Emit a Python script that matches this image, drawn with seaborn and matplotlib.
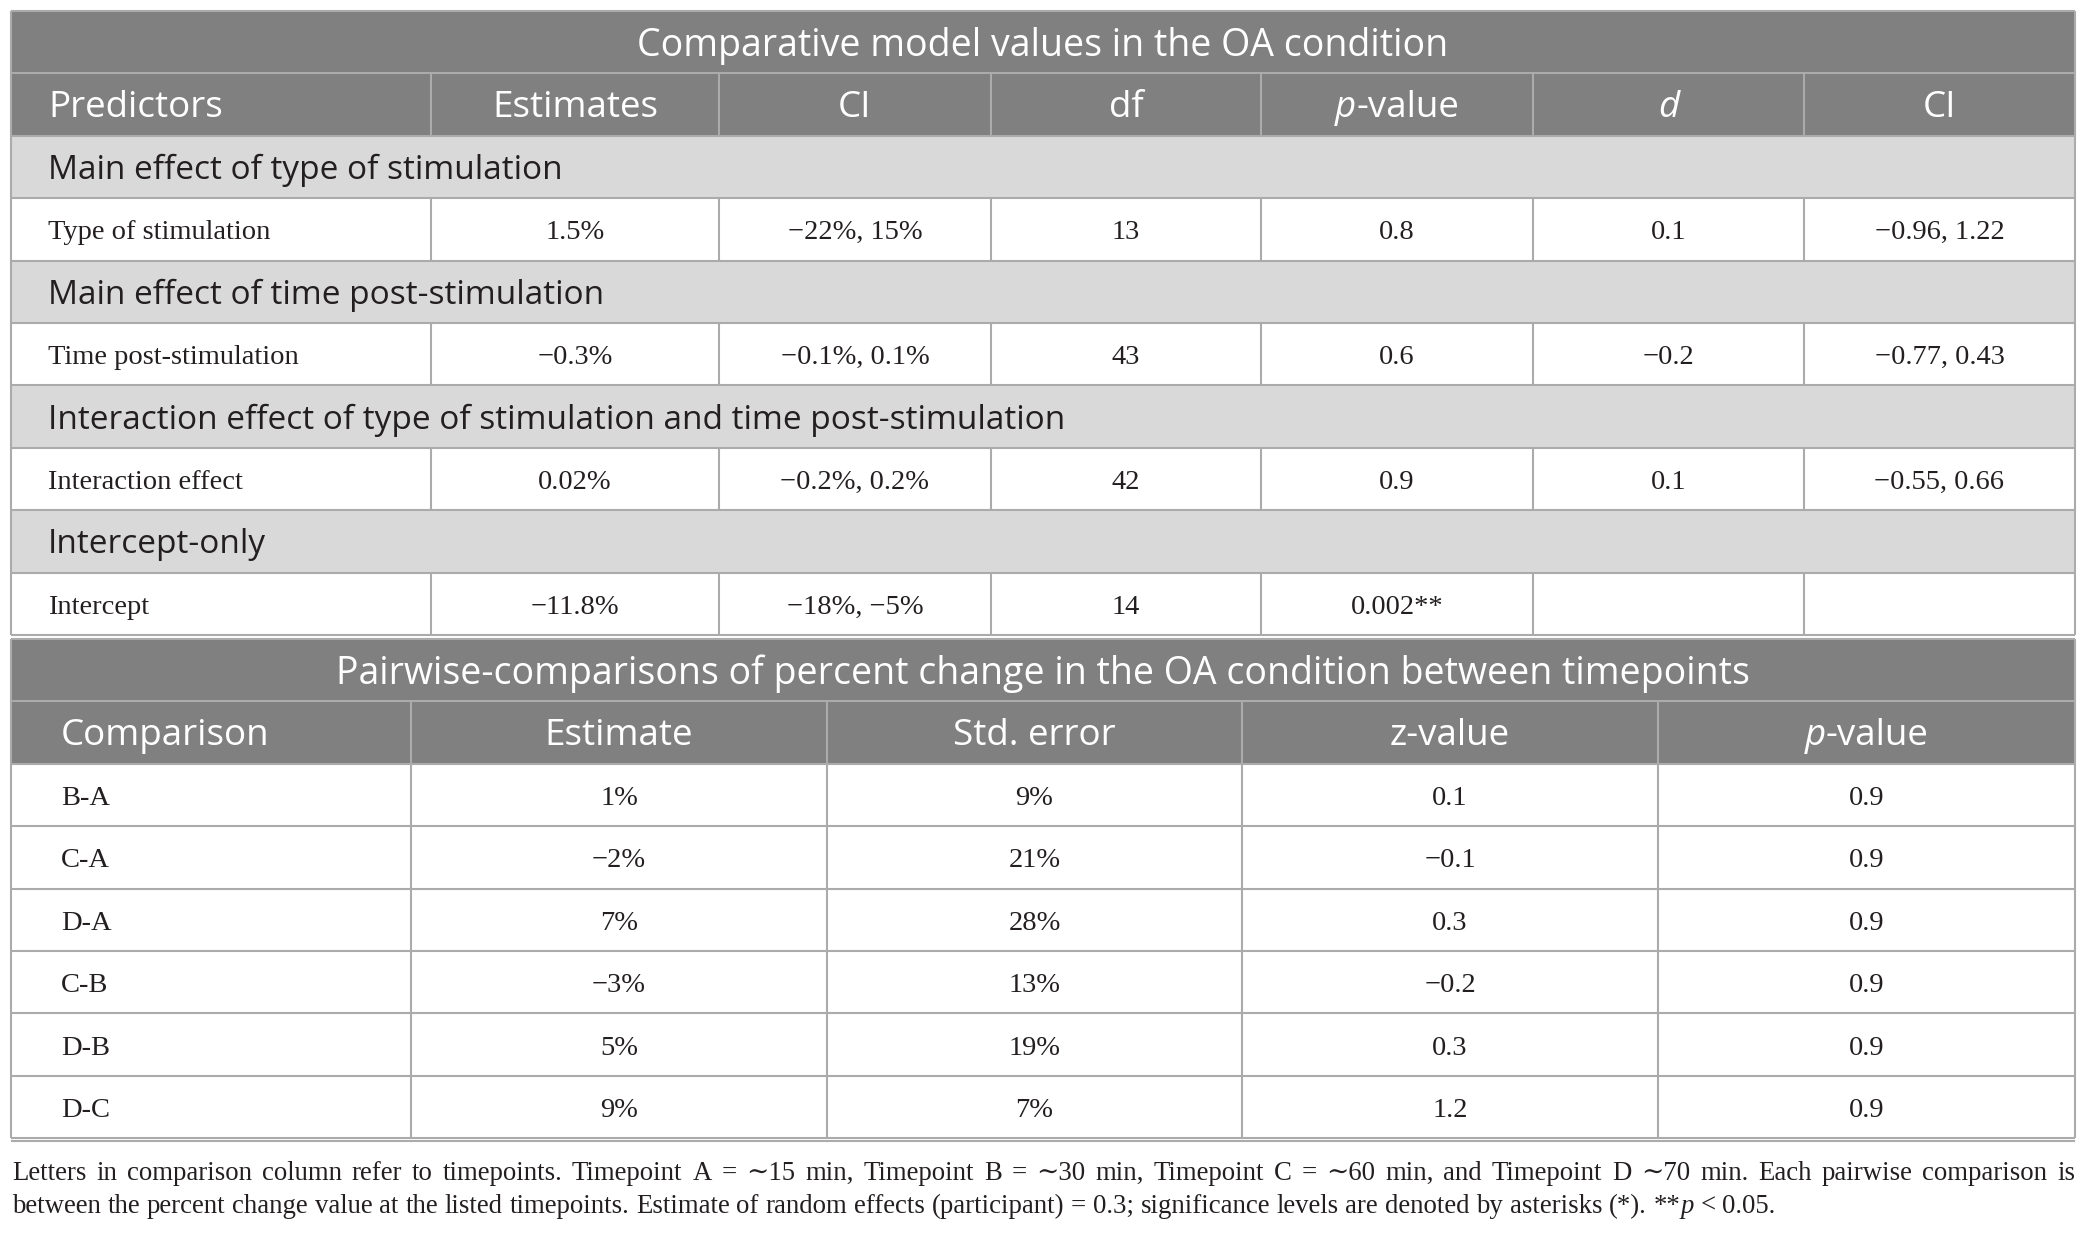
import matplotlib.pyplot as plt
import seaborn as sns
from matplotlib.patches import Rectangle

# ---- table 1: comparative model values ----
title1 = "Comparative model values in the OA condition"
header1 = ["Predictors", "Estimates", "CI", "df", [("p", "it"), ("-value", "rm")],
           [("d", "it")], "CI"]
sections = ["Main effect of type of stimulation",
            "Main effect of time post-stimulation",
            "Interaction effect of type of stimulation and time post-stimulation",
            "Intercept-only"]
predictors = ["Type of stimulation", "Time post-stimulation", "Interaction effect", "Intercept"]
estimates = ["1.5%", "\u22120.3%", "0.02%", "\u221211.8%"]
est_ci = ["\u221222%, 15%", "\u22120.1%, 0.1%", "\u22120.2%, 0.2%", "\u221218%, \u22125%"]
dfs = ["13", "43", "42", "14"]
p_values = ["0.8", "0.6", "0.9", "0.002**"]
d_values = ["0.1", "\u22120.2", "0.1", ""]
d_ci = ["\u22120.96, 1.22", "\u22120.77, 0.43", "\u22120.55, 0.66", ""]

# ---- table 2: pairwise comparisons ----
title2 = "Pairwise-comparisons of percent change in the OA condition between timepoints"
header2 = ["Comparison", "Estimate", "Std. error", "z-value", [("p", "it"), ("-value", "rm")]]
comparisons = ["B-A", "C-A", "D-A", "C-B", "D-B", "D-C"]
pw_estimate = ["1%", "\u22122%", "7%", "\u22123%", "5%", "9%"]
pw_se = ["9%", "21%", "28%", "13%", "19%", "7%"]
pw_z = ["0.1", "\u22120.1", "0.3", "\u22120.2", "0.3", "1.2"]
pw_p = ["0.9", "0.9", "0.9", "0.9", "0.9", "0.9"]

footer1 = ("Letters in comparison column refer to timepoints. Timepoint A = \u223c15 min, "
           "Timepoint B = \u223c30 min, Timepoint C = \u223c60 min, and Timepoint D \u223c70 min. "
           "Each pairwise comparison is")
footer2 = ("between the percent change value at the listed timepoints. Estimate of random "
           "effects (participant) = 0.3; significance levels are denoted by asterisks (*). **p < 0.05.")

# layout (pixels)
W, H = 2088, 1234
LEFT, RIGHT = 11, 2075
ROW_H = 62.4
T1_TOP = 11
T2_TOP = 639
DY = 3.5  # text sits a little below the geometric row centre
cols1 = [11, 431, 719, 991, 1261, 1533, 1804, 2075]
cols2 = [11, 411, 827, 1242, 1658, 2075]

DARK = "#808080"
LIGHT = "#d9d9d9"
EDGE = "#ababab"
INK = "#231f20"

TITLE_SZ = 27
HEAD_SZ = 26.5
SEC_SZ = 24
CELL_SZ = 20.5
FOOT_SZ = 19.3

sns.set_theme(style="white")
plt.rcParams["font.family"] = ["Open Sans", "DejaVu Sans"]

SANS = ["Open Sans", "DejaVu Sans"]
SERIF = ["Liberation Serif", "DejaVu Serif"]

fig = plt.figure(figsize=(W / 100, H / 100), dpi=100)
ax = fig.add_axes((0, 0, 1, 1))
ax.set_xlim(0, W)
ax.set_ylim(H, 0)
ax.axis("off")
renderer = fig.canvas.get_renderer()


def width_of(s, **kw):
    t = ax.text(0, 0, s, **kw)
    w = t.get_window_extent(renderer).width
    t.remove()
    return w


def draw_runs(x, y, runs, ha="left", va="center", family=SANS, size=20, color="white"):
    if isinstance(runs, str):
        runs = [(runs, "rm")]
    kws = [dict(family=family, fontsize=size, color=color,
                style="italic" if st == "it" else "normal") for _, st in runs]
    widths = [width_of(s, **k) for (s, _), k in zip(runs, kws)]
    total = sum(widths)
    if ha == "center":
        x = x - total / 2
    for (s, _), k, w in zip(runs, kws, widths):
        ax.text(x, y + DY, s, ha="left", va=va, **k)
        x += w


def band(y0, h, color):
    ax.add_patch(Rectangle((LEFT, y0), RIGHT - LEFT, h, facecolor=color, edgecolor="none"))


def build_table(top, title, header, cols, kinds, pad):
    band(top, ROW_H, DARK)
    band(top + ROW_H, ROW_H, DARK)
    for i, kind in enumerate(kinds):
        band(top + (i + 2) * ROW_H, ROW_H, LIGHT if kind == "sec" else "white")
    bottom = top + (2 + len(kinds)) * ROW_H
    # horizontal rules
    for i in range(len(kinds) + 3):
        ax.hlines(top + i * ROW_H, LEFT, RIGHT, color=EDGE, lw=1.5)
    ax.vlines([LEFT, RIGHT], top, bottom, color=EDGE, lw=1.5)
    # vertical rules for header and data rows
    for c in cols[1:-1]:
        ax.vlines(c, top + ROW_H, top + 2 * ROW_H, color=EDGE, lw=1.5)
        for i, kind in enumerate(kinds):
            if kind == "data":
                y0 = top + (i + 2) * ROW_H
                ax.vlines(c, y0, y0 + ROW_H, color=EDGE, lw=1.5)
    draw_runs((LEFT + RIGHT) / 2, top + ROW_H / 2, title, ha="center", size=TITLE_SZ)
    yh = top + 1.5 * ROW_H
    for j, h in enumerate(header):
        if j == 0:
            draw_runs(cols[0] + pad, yh, h, size=HEAD_SZ)
        else:
            draw_runs((cols[j] + cols[j + 1]) / 2, yh, h, ha="center", size=HEAD_SZ)
    return bottom


# table 1
kinds1 = ["sec", "data"] * 4
build_table(T1_TOP, title1, header1, cols1, kinds1, 37)
body1 = list(zip(predictors, estimates, est_ci, dfs, p_values, d_values, d_ci))
for i in range(4):
    ys = T1_TOP + (2 + 2 * i + 0.5) * ROW_H
    draw_runs(cols1[0] + 37, ys, sections[i], size=SEC_SZ, color=INK)
    yd = ys + ROW_H
    for j, val in enumerate(body1[i]):
        if j == 0:
            draw_runs(cols1[0] + 37, yd, val, family=SERIF, size=CELL_SZ, color=INK)
        elif val:
            draw_runs((cols1[j] + cols1[j + 1]) / 2, yd, val, ha="center",
                      family=SERIF, size=CELL_SZ, color=INK)

# table 2
kinds2 = ["data"] * 6
b2 = build_table(T2_TOP, title2, header2, cols2, kinds2, 50)
ax.hlines(b2 + 3, LEFT, RIGHT, color=EDGE, lw=1.5)
body2 = list(zip(comparisons, pw_estimate, pw_se, pw_z, pw_p))
for i, row in enumerate(body2):
    yd = T2_TOP + (2 + i + 0.5) * ROW_H
    for j, val in enumerate(row):
        if j == 0:
            draw_runs(cols2[0] + 50, yd, val, family=SERIF, size=CELL_SZ, color=INK)
        else:
            draw_runs((cols2[j] + cols2[j + 1]) / 2, yd, val, ha="center",
                      family=SERIF, size=CELL_SZ, color=INK)

# footnote: line 1 justified, line 2 natural spacing
fkw = dict(family=SERIF, fontsize=FOOT_SZ, color=INK)
BASE1, BASE2 = 1180, 1213
words1 = footer1.split(" ")
w1 = [width_of(w, **fkw) for w in words1]
gap = (RIGHT - 12 - sum(w1)) / (len(words1) - 1)
x = 12
for w, wd in zip(words1, w1):
    ax.text(x, BASE1, w, ha="left", va="baseline", **fkw)
    x += wd + gap

space = width_of("x x", **fkw) - width_of("xx", **fkw)
x = 12
for w in footer2.split(" "):
    if w == "**p":
        ax.text(x, BASE2, "**", ha="left", va="baseline", **fkw)
        x += width_of("**", **fkw)
        ax.text(x, BASE2, "p", ha="left", va="baseline", style="italic", **fkw)
        x += width_of("p", style="italic", **fkw) + space
        continue
    ax.text(x, BASE2, w, ha="left", va="baseline", **fkw)
    x += width_of(w, **fkw) + space

fig.savefig("out.png", dpi=100)
